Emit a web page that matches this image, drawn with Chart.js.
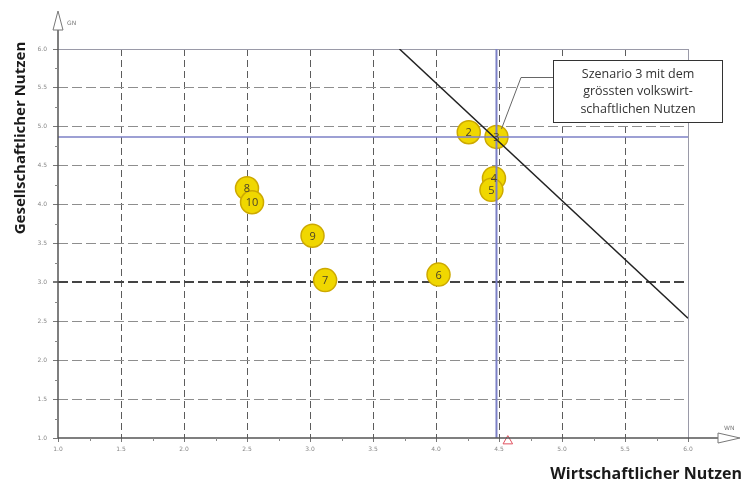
<!DOCTYPE html>
<html>
<head>
<meta charset="utf-8">
<script src="https://cdn.jsdelivr.net/npm/chart.js@4.4.1/dist/chart.umd.min.js"></script>
<style>
  body { margin: 0; background: #fff; }
  canvas { display: block; }
</style>
</head>
<body>
<canvas id="chart" width="744" height="482"></canvas>
<script>
// Szenarien: wirtschaftlicher (x) und gesellschaftlicher (y) Nutzen
const szenarien = ['2', '3', '4', '5', '6', '7', '8', '9', '10'];
const wirtschaftlich = [4.26, 4.48, 4.46, 4.44, 4.02, 3.12, 2.50, 3.02, 2.54];
const gesellschaftlich = [4.93, 4.87, 4.34, 4.19, 3.10, 3.03, 4.21, 3.60, 4.03];

// Grenzlinie und Referenzlinien
const grenzeX = [3.71, 6.0];
const grenzeY = [6.0, 2.54];
const refX = 4.48;
const refY = 4.87;
const markerX = 4.57;

const achseMin = 1.0;
const achseMax = 6.0;
const schritt = 0.5;

const titelX = 'Wirtschaftlicher Nutzen';
const titelY = 'Gesellschaftlicher Nutzen';
const hinweis = ['Szenario 3 mit dem', 'grössten volkswirt-', 'schaftlichen Nutzen'];

const punkte = szenarien.map((s, i) => ({ x: wirtschaftlich[i], y: gesellschaftlich[i] }));

// Zeichnet Achsen, Pfeile, Titel, Beschriftungen
const deko = {
  id: 'deko',
  beforeDatasetsDraw(chart) {
    const { ctx, chartArea: a, scales: { x, y } } = chart;
    ctx.save();
    // solide Rahmenlinien oben und rechts
    ctx.strokeStyle = '#9a9aa8';
    ctx.lineWidth = 1;
    ctx.beginPath();
    ctx.moveTo(a.left, y.getPixelForValue(achseMax) + 0.5);
    ctx.lineTo(a.right, y.getPixelForValue(achseMax) + 0.5);
    ctx.moveTo(x.getPixelForValue(achseMax) + 0.5, a.top);
    ctx.lineTo(x.getPixelForValue(achseMax) + 0.5, a.bottom);
    ctx.stroke();
    ctx.restore();
  },
  afterDraw(chart) {
    const { ctx, scales: { x, y } } = chart;
    const meta = chart.getDatasetMeta(0);
    ctx.save();

    // Achsen
    ctx.strokeStyle = '#555';
    ctx.lineWidth = 1.5;
    const x0 = x.getPixelForValue(achseMin);
    const y0 = y.getPixelForValue(achseMin);
    ctx.beginPath();
    ctx.moveTo(x0, y0);
    ctx.lineTo(718, y0);
    ctx.moveTo(x0, y0);
    ctx.lineTo(x0, 30);
    ctx.stroke();

    // hohle Pfeilspitzen
    ctx.lineWidth = 1;
    ctx.strokeStyle = '#777';
    ctx.fillStyle = '#fff';
    ctx.beginPath();
    ctx.moveTo(718, y0 - 5);
    ctx.lineTo(740, y0);
    ctx.lineTo(718, y0 + 5);
    ctx.closePath();
    ctx.fill();
    ctx.stroke();
    ctx.beginPath();
    ctx.moveTo(x0 - 5, 30);
    ctx.lineTo(x0, 11);
    ctx.lineTo(x0 + 5, 30);
    ctx.closePath();
    ctx.fill();
    ctx.stroke();

    // kleine Zwischenstriche
    ctx.strokeStyle = '#888';
    ctx.lineWidth = 1;
    ctx.beginPath();
    for (let v = achseMin + 0.25; v < achseMax; v += 0.5) {
      const px = Math.round(x.getPixelForValue(v)) + 0.5;
      ctx.moveTo(px, y0);
      ctx.lineTo(px, y0 + 3);
      const py = Math.round(y.getPixelForValue(v)) + 0.5;
      ctx.moveTo(x0, py);
      ctx.lineTo(x0 - 3, py);
    }
    ctx.stroke();

    // Achsenkürzel
    ctx.fillStyle = '#777';
    ctx.font = '6px "DejaVu Sans"';
    ctx.textAlign = 'left';
    ctx.textBaseline = 'middle';
    ctx.fillText('GN', 67, 23);
    ctx.fillText('WN', 724, 428);

    // Punktnummern
    ctx.font = '11px "Open Sans"';
    ctx.fillStyle = '#4a4228';
    ctx.textAlign = 'center';
    ctx.textBaseline = 'middle';
    meta.data.forEach((pt, i) => {
      ctx.fillText(szenarien[i], pt.x, pt.y + 1);
    });

    // Hinweisbox mit Verbindungslinie
    const p3 = meta.data[1];
    ctx.strokeStyle = '#666';
    ctx.lineWidth = 1;
    ctx.beginPath();
    ctx.moveTo(553, 77.5);
    ctx.lineTo(521, 77.5);
    ctx.lineTo(p3.x + 5, p3.y - 8);
    ctx.stroke();
    ctx.fillStyle = '#fff';
    ctx.fillRect(553, 60, 169, 62);
    ctx.strokeStyle = '#333';
    ctx.strokeRect(553.5, 60.5, 169, 62);
    ctx.fillStyle = '#333';
    ctx.font = '12.5px "Open Sans"';
    hinweis.forEach((t, i) => ctx.fillText(t, 638, 74 + i * 17.5));

    // Achsentitel
    ctx.fillStyle = '#1a1a1a';
    ctx.font = 'bold 16px "Open Sans"';
    ctx.textAlign = 'right';
    ctx.fillText(titelX, 742, 474);
    ctx.translate(21, 138);
    ctx.rotate(-Math.PI / 2);
    ctx.textAlign = 'center';
    ctx.font = 'bold 15px "Open Sans"';
    ctx.fillText(titelY, 0, 0);
    ctx.restore();
  }
};

new Chart(document.getElementById('chart'), {
  type: 'scatter',
  data: {
    datasets: [
      {
        label: 'Szenarien',
        data: punkte,
        backgroundColor: '#f0d700',
        borderColor: '#cda900',
        borderWidth: 1.5,
        pointRadius: 11.5,
        order: 2
      },
      {
        label: 'Grenze',
        data: grenzeX.map((v, i) => ({ x: v, y: grenzeY[i] })),
        showLine: true,
        borderColor: '#222',
        borderWidth: 1.5,
        pointRadius: 0,
        order: 0
      },
      {
        label: 'RefY',
        data: [{ x: achseMin, y: refY }, { x: achseMax, y: refY }],
        showLine: true,
        borderColor: '#7c80c6',
        borderWidth: 1.5,
        pointRadius: 0,
        order: 1
      },
      {
        label: 'RefX',
        data: [{ x: refX, y: achseMin }, { x: refX, y: achseMax }],
        showLine: true,
        borderColor: '#7c80c6',
        borderWidth: 2,
        pointRadius: 0,
        order: 1
      },
      {
        label: 'Marker',
        data: [{ x: markerX, y: 0.96 }],
        pointStyle: 'triangle',
        pointRadius: 5.5,
        backgroundColor: 'rgba(255,255,255,0)',
        borderColor: '#e0505e',
        borderWidth: 1,
        clip: false,
        order: 0
      }
    ]
  },
  options: {
    responsive: false,
    animation: false,
    layout: { padding: { left: 0, top: 49, right: 56, bottom: 0 } },
    plugins: { legend: { display: false }, tooltip: { enabled: false } },
    scales: {
      x: {
        type: 'linear',
        min: achseMin,
        max: achseMax,
        afterFit: (s) => { s.height = 44; },
        ticks: {
          stepSize: schritt,
          color: '#888',
          font: { size: 6, family: 'DejaVu Sans' },
          padding: 4,
          callback: (v) => v.toFixed(1)
        },
        border: { display: false, dash: [7, 4] },
        grid: {
          color: (c) => (c.tick && (c.tick.value === achseMin || c.tick.value === achseMax)) ? 'rgba(0,0,0,0)' : '#5c5c5c',
          lineWidth: 1,
          tickLength: 4,
          tickColor: '#777',
          tickBorderDash: []
        }
      },
      y: {
        type: 'linear',
        min: achseMin,
        max: achseMax,
        afterFit: (s) => { s.width = 58; },
        ticks: {
          stepSize: schritt,
          color: '#888',
          font: { size: 6, family: 'DejaVu Sans' },
          padding: 6,
          callback: (v) => v.toFixed(1)
        },
        border: { display: false, dash: [10, 4] },
        grid: {
          color: (c) => {
            if (!c.tick) return '#999';
            if (c.tick.value === achseMin || c.tick.value === achseMax) return 'rgba(0,0,0,0)';
            return c.tick.value === 3 ? '#444' : '#8e8e8e';
          },
          lineWidth: (c) => (c.tick && c.tick.value === 3) ? 2 : 1,
          tickLength: 5,
          tickColor: '#777',
          tickBorderDash: []
        }
      }
    }
  },
  plugins: [deko]
});
</script>
</body>
</html>
